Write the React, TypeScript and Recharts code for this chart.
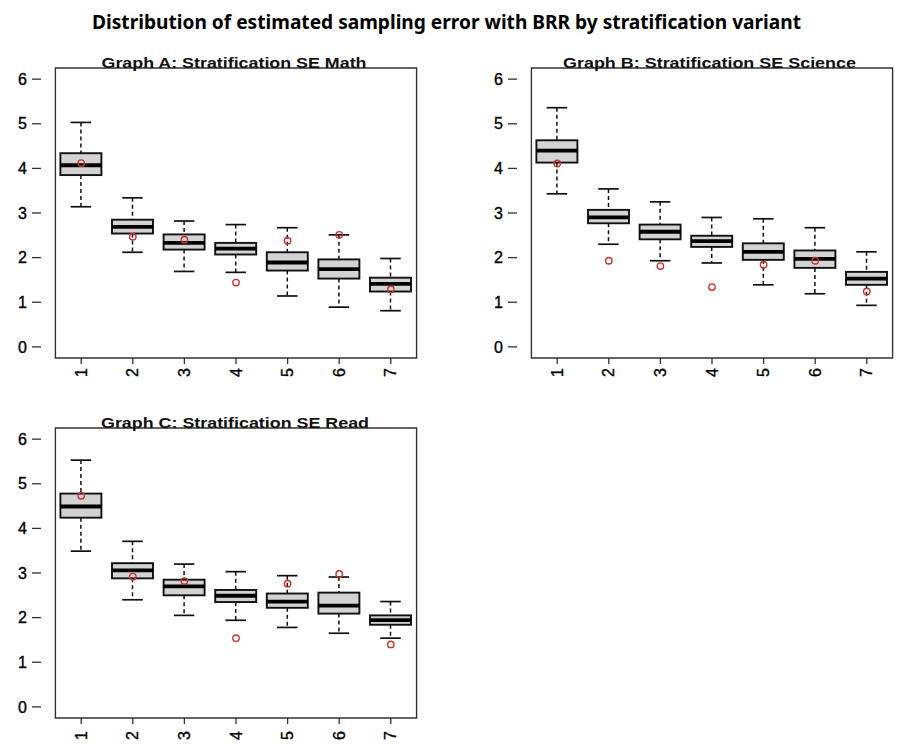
import { Bar, ComposedChart, ReferenceArea, Scatter, XAxis, YAxis } from "recharts";

const variants = ["1", "2", "3", "4", "5", "6", "7"];
const yTicks = [0, 1, 2, 3, 4, 5, 6];

// Graph A: Math
const mathLow = [3.14, 2.12, 1.69, 1.67, 1.14, 0.89, 0.81];
const mathQ1 = [3.85, 2.54, 2.18, 2.07, 1.71, 1.53, 1.24];
const mathMedian = [4.07, 2.69, 2.33, 2.2, 1.89, 1.74, 1.41];
const mathQ3 = [4.34, 2.85, 2.52, 2.33, 2.12, 1.96, 1.55];
const mathHigh = [5.03, 3.34, 2.82, 2.74, 2.67, 2.51, 1.98];
const mathMark = [4.12, 2.47, 2.4, 1.44, 2.38, 2.51, 1.29];

// Graph B: Science
const sciLow = [3.43, 2.3, 1.93, 1.88, 1.39, 1.19, 0.93];
const sciQ1 = [4.13, 2.77, 2.41, 2.24, 1.95, 1.77, 1.39];
const sciMedian = [4.4, 2.9, 2.58, 2.37, 2.13, 1.97, 1.53];
const sciQ3 = [4.63, 3.07, 2.74, 2.49, 2.32, 2.16, 1.68];
const sciHigh = [5.36, 3.54, 3.25, 2.9, 2.87, 2.67, 2.13];
const sciMark = [4.11, 1.93, 1.81, 1.34, 1.84, 1.93, 1.24];

// Graph C: Read
const readLow = [3.49, 2.4, 2.05, 1.94, 1.78, 1.65, 1.54];
const readQ1 = [4.24, 2.88, 2.5, 2.35, 2.22, 2.09, 1.84];
const readMedian = [4.49, 3.06, 2.7, 2.49, 2.36, 2.27, 1.945];
const readQ3 = [4.78, 3.22, 2.85, 2.62, 2.54, 2.56, 2.05];
const readHigh = [5.53, 3.71, 3.2, 3.03, 2.94, 2.91, 2.36];
const readMark = [4.73, 2.92, 2.82, 1.54, 2.76, 2.98, 1.4];

const FONT = "'Liberation Sans', Arial, sans-serif";
const FRAME = "#333";

type Row = { v: string; low: number; q1: number; med: number; q3: number; high: number; mark: number };

function buildRows(low: number[], q1: number[], med: number[], q3: number[], high: number[], mark: number[]): Row[] {
  return variants.map((v, i) => ({ v, low: low[i], q1: q1[i], med: med[i], q3: q3[i], high: high[i], mark: mark[i] }));
}

const panels = [
  {
    title: "Graph A: Stratification SE Math",
    rows: buildRows(mathLow, mathQ1, mathMedian, mathQ3, mathHigh, mathMark),
    left: 0,
    top: 58,
    labelGap: 4,
    titleX: 101.5,
    titleLen: 265,
  },
  {
    title: "Graph B: Stratification SE Science",
    rows: buildRows(sciLow, sciQ1, sciMedian, sciQ3, sciHigh, sciMark),
    left: 476,
    top: 58,
    labelGap: 4,
    titleX: 563,
    titleLen: 293,
  },
  {
    title: "Graph C: Stratification SE Read",
    rows: buildRows(readLow, readQ1, readMedian, readQ3, readHigh, readMark),
    left: 0,
    top: 418,
    labelGap: 7,
    titleX: 101,
    titleLen: 268,
  },
];

// the bar spans low..high, the rest of the box is placed on that same scale
function BoxShape(props: any) {
  const { x, y, width, height, payload } = props;
  const top = Math.min(y, y + height);
  const perUnit = Math.abs(height) / (payload.high - payload.low);
  const py = (val: number) => top + (payload.high - val) * perUnit;
  const cx = x + width / 2;
  const cap = width / 4;
  return (
    <g>
      <line x1={cx} x2={cx} y1={py(payload.high)} y2={py(payload.q3)} stroke="#111" strokeWidth={1.5} strokeDasharray="4 3" />
      <line x1={cx} x2={cx} y1={py(payload.q1)} y2={py(payload.low)} stroke="#111" strokeWidth={1.5} strokeDasharray="4 3" />
      <line x1={cx - cap} x2={cx + cap} y1={py(payload.high)} y2={py(payload.high)} stroke="#111" strokeWidth={1.7} />
      <line x1={cx - cap} x2={cx + cap} y1={py(payload.low)} y2={py(payload.low)} stroke="#111" strokeWidth={1.7} />
      <rect x={x} y={py(payload.q3)} width={width} height={py(payload.q1) - py(payload.q3)} fill="#d3d3d3" stroke="#111" strokeWidth={1.9} />
      <line x1={x} x2={x + width} y1={py(payload.med)} y2={py(payload.med)} stroke="#000" strokeWidth={3.8} />
    </g>
  );
}

function MarkShape(props: any) {
  return <circle cx={props.cx} cy={props.cy} r={3.2} fill="none" stroke="#c8322f" strokeWidth={1.4} />;
}

function makeVariantTick(gap: number) {
  return (props: any) => {
    const { x, y, payload } = props;
    const ty = y + gap;
    return (
      <text
        x={x}
        y={ty}
        transform={`rotate(-90, ${x}, ${ty})`}
        textAnchor="end"
        dominantBaseline="central"
        fontSize={16}
        fontFamily={FONT}
        fill="#000"
        stroke="#000"
        strokeWidth={0.35}
      >
        {payload.value}
      </text>
    );
  };
}

function BoxPanel({ rows, labelGap }: { rows: Row[]; labelGap: number }) {
  return (
    <ComposedChart width={440} height={340} data={rows} margin={{ top: 10, right: 9, bottom: 0, left: 0 }}>
      <ReferenceArea y1={-0.25} y2={6.25} fill="none" stroke={FRAME} strokeWidth={1.4} fillOpacity={0} />
      <XAxis
        dataKey="v"
        type="category"
        interval={0}
        height={40}
        padding={{ left: 14.4, right: 14.4 }}
        axisLine={false}
        tickLine={{ stroke: FRAME, strokeWidth: 1.3 }}
        tickSize={6}
        tickMargin={0}
        tick={makeVariantTick(labelGap)}
      />
      <YAxis
        type="number"
        domain={[-0.25, 6.25]}
        allowDataOverflow
        ticks={yTicks}
        width={41}
        axisLine={false}
        tickLine={{ stroke: FRAME, strokeWidth: 1.3 }}
        tickSize={9}
        tickMargin={5}
        fontSize={16}
        tick={{ fill: "#000", fontSize: 16, fontFamily: FONT, stroke: "#000", strokeWidth: 0.35 }}
      />
      <Bar dataKey={(d: Row) => [d.low, d.high]} barSize={41} shape={BoxShape} isAnimationActive={false} />
      <Scatter dataKey="mark" shape={MarkShape} isAnimationActive={false} />
    </ComposedChart>
  );
}

export default function App() {
  return (
    <div style={{ position: "absolute", left: 0, top: 0, width: 904, height: 744, overflow: "hidden", background: "#fff" }}>
      {panels.map((p) => (
        <div key={p.title} style={{ position: "absolute", left: p.left, top: p.top, width: 440, height: 340 }}>
          <BoxPanel rows={p.rows} labelGap={p.labelGap} />
        </div>
      ))}
      <svg width={904} height={744} style={{ position: "absolute", left: 0, top: 0, pointerEvents: "none" }}>
        <text
          x={92}
          y={29}
          textLength={709}
          lengthAdjust="spacingAndGlyphs"
          fontSize={20}
          fontWeight="bold"
          fontFamily="'Liberation Sans Narrow', 'Noto Sans', sans-serif"
          fill="#000"
        >
          Distribution of estimated sampling error with BRR by stratification variant
        </text>
        {panels.map((p) => (
          <text
            key={p.title}
            x={p.titleX}
            y={p.top + 10}
            textLength={p.titleLen}
            lengthAdjust="spacingAndGlyphs"
            fontSize={15.5}
            fontWeight="bold"
            fontFamily={FONT}
            fill="#111"
          >
            {p.title}
          </text>
        ))}
      </svg>
    </div>
  );
}
